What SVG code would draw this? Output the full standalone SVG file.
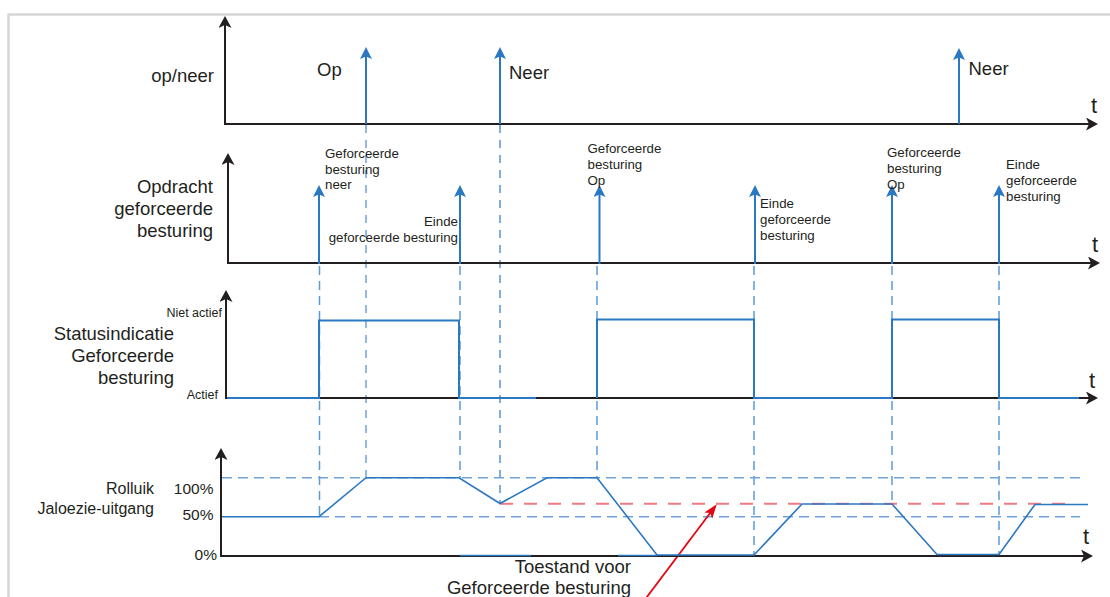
<svg xmlns="http://www.w3.org/2000/svg" width="1110" height="597" viewBox="0 0 1110 597">
<style>
text{font-family:"Liberation Sans",Arial,sans-serif;fill:#231f20}
.big{font-size:18.5px}
.sm{font-size:13.3px}
.mid{font-size:15.5px}
.tt{font-size:22px}
.r{text-anchor:end}
.axis{stroke:#231f20;stroke-width:2;fill:none}
.imp{stroke:#2b78c2;stroke-width:2;fill:none}
.sig{stroke:#2b78c2;stroke-width:2;fill:none;stroke-linejoin:miter}
.sig2{stroke:#2b78c2;stroke-width:1.6;fill:none}
.dv{stroke:#5b9bd5;stroke-width:1.5;stroke-dasharray:9 6;fill:none}
.dvd{stroke:#2b78c2;stroke-width:1.2;stroke-dasharray:8 7;fill:none}
.dh{stroke:#6fa3d8;stroke-width:1.5;stroke-dasharray:10 6;fill:none}
.dr{stroke:#ee7b82;stroke-width:2;stroke-dasharray:13 11;fill:none}
</style>
<defs>
<marker id="ab" markerUnits="userSpaceOnUse" viewBox="0 0 12 12" markerWidth="12" markerHeight="12" refX="4" refY="6" orient="auto"><path d="M0,0 L12,6 L0,12 L2.5,6 z" fill="#2b78c2"/></marker>
<marker id="ak" markerUnits="userSpaceOnUse" viewBox="0 0 12 13" markerWidth="12" markerHeight="13" refX="4" refY="6.5" orient="auto"><path d="M0,0 L12,6.5 L0,13 L3,6.5 z" fill="#231f20"/></marker>
<marker id="ar" markerUnits="userSpaceOnUse" viewBox="0 0 14 10" markerWidth="14" markerHeight="10" refX="5" refY="5" orient="auto"><path d="M0,0 L14,5 L0,10 L3,5 z" fill="#e30613"/></marker>
</defs>

<path d="M8.5,597 V14.5 H1110" fill="none" stroke="#d6d6d6" stroke-width="2.5"/>

<g id="connectors">
  <line class="dvd" x1="366" y1="125" x2="366" y2="477.7" style="stroke:#6fa3d8;stroke-width:1.5"/>
  <line class="dvd" x1="500" y1="125" x2="500" y2="503"/>
  <line class="dv" x1="319.5" y1="266" x2="319.5" y2="516.7"/>
  <line class="dv" x1="460" y1="266" x2="460" y2="477.7"/>
  <line class="dv" x1="597" y1="266" x2="597" y2="477.7"/>
  <line class="dv" x1="754" y1="266" x2="754" y2="555"/>
  <line class="dv" x1="892" y1="266" x2="892" y2="504"/>
  <line class="dv" x1="999" y1="266" x2="999" y2="555"/>
  <line class="dh" x1="222" y1="477.7" x2="1080" y2="477.7"/>
  <line class="dh" x1="319" y1="516.7" x2="1080" y2="516.7"/>
  <line class="dr" x1="500" y1="503.8" x2="1073" y2="503.8"/>
  <line x1="645" y1="599.5" x2="711.3" y2="511.5" stroke="#e30613" stroke-width="1.8" marker-end="url(#ar)"/>
</g>

<g id="panel-opneer">
  <line class="axis" x1="225" y1="125" x2="225" y2="24" marker-end="url(#ak)"/>
  <line class="axis" x1="224" y1="124" x2="1090" y2="124" marker-end="url(#ak)"/>
  <text class="tt" x="1091" y="113">t</text>
  <text class="big r" x="214" y="82">op/neer</text>
  <line class="imp" x1="366" y1="124" x2="366" y2="55" marker-end="url(#ab)"/>
  <text class="big" x="317" y="76">Op</text>
  <line class="imp" x1="500" y1="124" x2="500" y2="55" marker-end="url(#ab)"/>
  <text class="big" x="509" y="79">Neer</text>
  <line class="imp" x1="959" y1="124" x2="959" y2="56" marker-end="url(#ab)"/>
  <text class="big" x="968.5" y="75">Neer</text>
</g>

<g id="panel-opdracht">
  <line class="axis" x1="228" y1="264" x2="228" y2="161" marker-end="url(#ak)"/>
  <line class="axis" x1="227" y1="263" x2="1092" y2="263" marker-end="url(#ak)"/>
  <text class="tt" x="1092" y="252">t</text>
  <text class="big r" x="213" y="193">Opdracht</text>
  <text class="big r" x="213" y="215">geforceerde</text>
  <text class="big r" x="213" y="237">besturing</text>
  <line class="imp" x1="319" y1="264" x2="319" y2="193" marker-end="url(#ab)"/>
  <text class="sm" x="325" y="158">Geforceerde</text>
  <text class="sm" x="325" y="174">besturing</text>
  <text class="sm" x="325" y="189">neer</text>
  <line class="imp" x1="460" y1="264" x2="460" y2="193" marker-end="url(#ab)"/>
  <text class="sm r" x="458" y="226">Einde</text>
  <text class="sm r" x="458" y="242">geforceerde besturing</text>
  <line class="imp" x1="599.5" y1="264" x2="599.5" y2="193" marker-end="url(#ab)"/>
  <text class="sm" x="587.5" y="153">Geforceerde</text>
  <text class="sm" x="587.5" y="169">besturing</text>
  <text class="sm" x="587.5" y="185">Op</text>
  <line class="imp" x1="755" y1="264" x2="755" y2="193" marker-end="url(#ab)"/>
  <text class="sm" x="760" y="208">Einde</text>
  <text class="sm" x="760" y="224">geforceerde</text>
  <text class="sm" x="760" y="240">besturing</text>
  <line class="imp" x1="892" y1="264" x2="892" y2="193" marker-end="url(#ab)"/>
  <text class="sm" x="887" y="157">Geforceerde</text>
  <text class="sm" x="887" y="173">besturing</text>
  <text class="sm" x="887" y="189">Op</text>
  <line class="imp" x1="999" y1="264" x2="999" y2="193" marker-end="url(#ab)"/>
  <text class="sm" x="1006" y="169">Einde</text>
  <text class="sm" x="1006" y="185">geforceerde</text>
  <text class="sm" x="1006" y="201">besturing</text>
</g>

<g id="panel-status">
  <line class="axis" x1="226" y1="399" x2="226" y2="298" marker-end="url(#ak)"/>
  <line class="axis" x1="225" y1="398" x2="1090" y2="398" marker-end="url(#ak)"/>
  <text class="tt" x="1089" y="388">t</text>
  <text class="big r" x="174" y="340">Statusindicatie</text>
  <text class="big r" x="174" y="362">Geforceerde</text>
  <text class="big r" x="174" y="384">besturing</text>
  <text class="r" x="222" y="317" style="font-size:12.5px">Niet actief</text>
  <text class="r" x="218" y="399" style="font-size:12.5px">Actief</text>
  <polyline class="sig" points="227,398 319,398 319,320.5 459,320.5 459,398 536,398"/>
  <polyline class="sig" points="597,398 597,319.5 754,319.5 754,398 892,398 892,319.5 999,319.5 999,398 1079,398"/>
</g>

<g id="panel-rolluik">
  <line class="axis" x1="221" y1="557" x2="221" y2="456" marker-end="url(#ak)"/>
  <line class="axis" x1="220" y1="556" x2="1085" y2="556" marker-end="url(#ak)"/>
  <text class="tt" x="1083" y="544">t</text>
  <text class="r" x="154" y="494" style="font-size:16px">Rolluik</text>
  <text class="r" x="154" y="514" style="font-size:16px">Jaloezie-uitgang</text>
  <text class="mid r" x="213.5" y="494">100%</text>
  <text class="mid r" x="213.5" y="520">50%</text>
  <text class="mid r" x="217" y="560">0%</text>
  <line class="sig2" x1="460" y1="555.5" x2="531" y2="555.5" stroke-width="2"/>
  <line class="sig2" x1="618" y1="555.5" x2="657" y2="555.5" stroke-width="2"/>
  <polyline class="sig2" points="222,516.7 319,516.7 366,477.7 459,477.7 500,503.5 547,477.7 597,477.7 657,555 754,555 802,504 892,504 937,554.5 999,554.5 1035,504.5 1088,504.5"/>
  <text class="big r" x="631" y="573">Toestand voor</text>
  <text class="big r" x="631" y="594">Geforceerde besturing</text>
</g>
</svg>
